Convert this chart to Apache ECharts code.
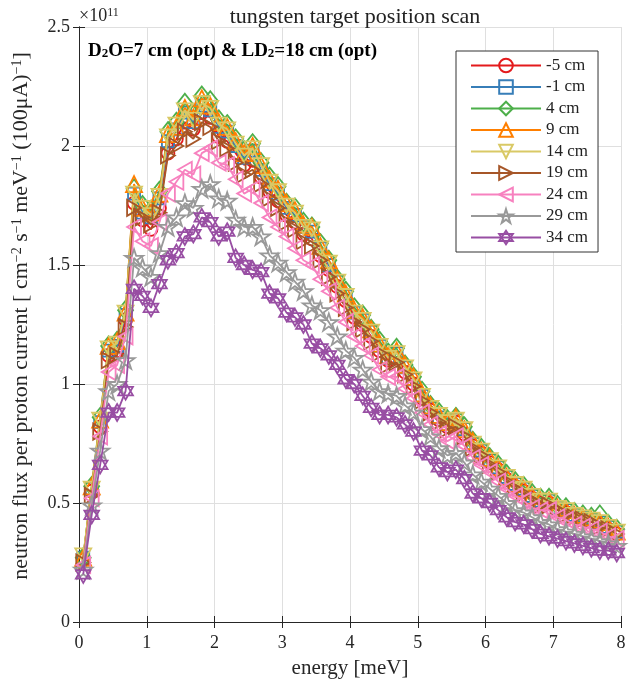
<!DOCTYPE html>
<html><head><meta charset="utf-8">
<script src="https://cdn.jsdelivr.net/npm/echarts@6/dist/echarts.min.js"></script>
<style>html,body{margin:0;padding:0;background:#fff}#c{width:644px;height:688px}</style>
</head><body><div id="c"></div>
<script>
// energy bin centres [meV]
const energy = [0.0625,0.1875,0.3125,0.4375,0.5625,0.6875,0.8125,0.9375,1.0625,1.1875,1.3125,1.4375,1.5625,1.6875,1.8125,1.9375,
2.0625,2.1875,2.3125,2.4375,2.5625,2.6875,2.8125,2.9375,3.0625,3.1875,3.3125,3.4375,3.5625,3.6875,3.8125,3.9375,
4.0625,4.1875,4.3125,4.4375,4.5625,4.6875,4.8125,4.9375,5.0625,5.1875,5.3125,5.4375,5.5625,5.6875,5.8125,5.9375,
6.0625,6.1875,6.3125,6.4375,6.5625,6.6875,6.8125,6.9375,7.0625,7.1875,7.3125,7.4375,7.5625,7.6875,7.8125,7.9375];

const seriesNames = ['-5 cm','-1 cm','4 cm','9 cm','14 cm','19 cm','24 cm','29 cm','34 cm'];

// flux in units of 1e11
const fluxM5 = [0.26,0.55,0.82,1.12,1.14,1.27,1.76,1.69,1.65,1.74,1.97,2.03,2.10,2.07,2.14,2.12,2.04,2.02,1.97,1.92,1.94,1.87,1.81,1.77,1.71,1.68,1.63,1.61,1.54,1.48,1.41,1.35,1.28,1.25,1.20,1.14,1.10,1.11,1.05,1.00,0.94,0.89,0.85,0.82,0.84,0.79,0.74,0.71,0.67,0.64,0.60,0.57,0.55,0.52,0.50,0.50,0.47,0.46,0.44,0.43,0.42,0.41,0.39,0.37];
const fluxM1 = [0.27,0.56,0.84,1.14,1.16,1.29,1.80,1.72,1.70,1.78,2.02,2.07,2.14,2.10,2.17,2.15,2.08,2.06,2.00,1.95,1.98,1.90,1.84,1.80,1.74,1.71,1.66,1.64,1.57,1.50,1.43,1.37,1.30,1.27,1.22,1.16,1.11,1.13,1.07,1.02,0.95,0.90,0.86,0.83,0.85,0.81,0.75,0.72,0.68,0.65,0.61,0.58,0.56,0.53,0.51,0.51,0.48,0.47,0.45,0.44,0.43,0.42,0.40,0.38];
const flux4 = [0.27,0.57,0.86,1.16,1.18,1.31,1.82,1.75,1.73,1.81,2.06,2.10,2.18,2.13,2.21,2.19,2.11,2.09,2.03,1.98,2.01,1.93,1.87,1.83,1.76,1.74,1.68,1.66,1.59,1.52,1.44,1.39,1.32,1.29,1.23,1.18,1.13,1.15,1.08,1.03,0.97,0.91,0.88,0.85,0.86,0.82,0.76,0.73,0.69,0.66,0.62,0.59,0.57,0.54,0.52,0.52,0.49,0.48,0.46,0.45,0.44,0.45,0.41,0.39];
const flux9 = [0.27,0.57,0.85,1.16,1.18,1.30,1.84,1.74,1.72,1.80,2.05,2.08,2.16,2.12,2.20,2.17,2.10,2.08,2.02,1.97,2.00,1.92,1.86,1.82,1.76,1.73,1.67,1.66,1.58,1.52,1.44,1.38,1.31,1.28,1.23,1.17,1.12,1.14,1.08,1.03,0.96,0.91,0.87,0.84,0.86,0.81,0.76,0.72,0.69,0.65,0.61,0.58,0.56,0.53,0.51,0.51,0.48,0.47,0.45,0.44,0.43,0.42,0.40,0.38];
const flux14 = [0.28,0.56,0.85,1.15,1.17,1.30,1.80,1.74,1.71,1.79,2.04,2.09,2.15,2.11,2.18,2.16,2.09,2.07,2.01,1.96,1.99,1.92,1.85,1.81,1.75,1.72,1.66,1.65,1.57,1.51,1.43,1.37,1.30,1.27,1.22,1.16,1.11,1.13,1.07,1.02,0.95,0.90,0.87,0.84,0.85,0.81,0.75,0.72,0.68,0.65,0.61,0.58,0.56,0.53,0.51,0.51,0.48,0.47,0.45,0.44,0.43,0.42,0.40,0.38];
const flux19 = [0.25,0.53,0.80,1.10,1.12,1.24,1.74,1.70,1.67,1.72,1.96,2.00,2.06,2.03,2.10,2.08,2.02,1.99,1.93,1.88,1.90,1.84,1.78,1.74,1.68,1.65,1.60,1.58,1.52,1.45,1.38,1.32,1.26,1.23,1.18,1.13,1.08,1.09,1.04,0.99,0.93,0.88,0.84,0.81,0.82,0.78,0.73,0.70,0.66,0.63,0.59,0.56,0.54,0.51,0.49,0.49,0.47,0.45,0.44,0.43,0.42,0.40,0.39,0.37];
const flux24 = [0.24,0.52,0.78,1.05,1.08,1.20,1.66,1.60,1.58,1.68,1.80,1.85,1.90,1.88,1.97,1.99,1.93,1.92,1.86,1.80,1.82,1.76,1.70,1.66,1.62,1.57,1.52,1.50,1.44,1.39,1.32,1.26,1.20,1.16,1.12,1.06,1.03,1.03,0.98,0.94,0.88,0.83,0.79,0.76,0.78,0.74,0.69,0.66,0.63,0.59,0.56,0.53,0.51,0.48,0.47,0.47,0.44,0.43,0.41,0.40,0.39,0.38,0.36,0.35];
const flux29 = [0.22,0.49,0.72,0.97,1.00,1.10,1.53,1.49,1.45,1.55,1.66,1.70,1.76,1.74,1.82,1.84,1.78,1.77,1.69,1.66,1.66,1.62,1.54,1.51,1.47,1.43,1.39,1.33,1.31,1.26,1.20,1.14,1.11,1.06,1.01,0.97,0.96,0.95,0.91,0.88,0.81,0.78,0.73,0.70,0.71,0.67,0.62,0.59,0.56,0.53,0.50,0.47,0.46,0.44,0.42,0.41,0.39,0.38,0.37,0.36,0.35,0.34,0.33,0.32];
const flux34 = [0.20,0.45,0.66,0.88,0.88,0.97,1.40,1.37,1.32,1.42,1.52,1.55,1.62,1.63,1.70,1.68,1.62,1.64,1.53,1.50,1.48,1.47,1.38,1.36,1.30,1.28,1.25,1.17,1.15,1.12,1.08,1.02,1.00,0.95,0.90,0.87,0.87,0.86,0.83,0.80,0.72,0.70,0.65,0.63,0.64,0.60,0.54,0.52,0.50,0.47,0.44,0.42,0.41,0.39,0.37,0.36,0.35,0.34,0.33,0.32,0.31,0.30,0.30,0.29];

const xTicks = [0,1,2,3,4,5,6,7,8];
const yTicks = [0,0.5,1,1.5,2,2.5];

const allFlux = [fluxM5, fluxM1, flux4, flux9, flux14, flux19, flux24, flux29, flux34];
const colors = ['#e41a1c','#377eb8','#4daf4a','#ff7f00','#d9c966','#a65628','#f781bf','#999999','#984ea3'];
const symbols = ['circle','rect','diamond','triangle',
  'path://M0,0L100,0L50,87Z',
  'path://M0,0L87,50L0,100Z',
  'path://M87,0L0,50L87,100Z',
  'path://M50,0L61.23,34.55L97.55,34.55L68.16,55.9L79.39,90.45L50,69.1L20.61,90.45L31.84,55.9L2.45,34.55L38.77,34.55Z',
  'path://M50,0L93.3,75L6.7,75Z M50,100L6.7,25L93.3,25Z'];
const symSizes = [13,12,[15,19],16,16,16,16,18,17];

const FONT = 'Liberation Serif';
const chart = echarts.init(document.getElementById('c'), null, {renderer:'canvas'});

const series = allFlux.map((arr, i) => ({
  name: seriesNames[i],
  type: 'line',
  data: energy.map((e, k) => [e, arr[k]]),
  symbol: symbols[i],
  symbolSize: symSizes[i],
  symbolKeepAspect: i >= 4,
  showAllSymbol: true,
  lineStyle: {color: colors[i], width: 1.8},
  itemStyle: {color: 'rgba(0,0,0,0)', borderColor: colors[i], borderWidth: 1.8},
  emphasis: {disabled: true},
  xAxisIndex: 0, yAxisIndex: 0,
  z: 2 + i
}));

const axisCommon = {
  min: 0,
  axisLine: {show: true, lineStyle: {color: '#262626', width: 1}},
  axisTick: {show: true, inside: true, length: 6, lineStyle: {color: '#262626', width: 1}},
};

chart.setOption({
  animation: false,
  backgroundColor: '#fff',
  textStyle: {fontFamily: FONT},
  title: {
    text: 'tungsten target position scan',
    left: 350, top: 1, textAlign: 'center',
    textStyle: {fontFamily: FONT, fontWeight: 'normal', fontSize: 22, color: '#222'}
  },
  grid: {left: 79, right: 23, top: 27, bottom: 66, containLabel: false},
  legend: {
    orient: 'vertical', left: 456, top: 51,
    itemWidth: 70, itemHeight: 17, itemGap: 4.5, itemTextGap: 7,
    padding: [6, 10, 6, 14],
    borderColor: '#333', borderWidth: 1, backgroundColor: '#fff',
    textStyle: {fontFamily: FONT, fontSize: 17, color: '#222'},
    data: seriesNames,
    selectedMode: false
  },
  xAxis: [
    Object.assign({}, axisCommon, {
      type: 'value', max: 8, interval: 1, position: 'bottom',
      axisLabel: {fontFamily: FONT, fontSize: 18, color: '#262626', margin: 12,
        formatter: v => xTicks.includes(v) ? String(v) : ''},
      splitLine: {show: true, lineStyle: {color: '#dfdfdf', width: 1}},
      name: 'energy [meV]', nameLocation: 'middle', nameGap: 36,
      nameTextStyle: {fontFamily: FONT, fontSize: 21, color: '#262626'}
    }),
    Object.assign({}, axisCommon, {
      type: 'value', max: 8, interval: 1, position: 'top', gridIndex: 0,
      axisLabel: {show: false}, splitLine: {show: false}
    })
  ],
  yAxis: [
    Object.assign({}, axisCommon, {
      type: 'value', max: 2.5, interval: 0.5, position: 'left',
      axisLabel: {fontFamily: FONT, fontSize: 18, color: '#262626', margin: 9,
        formatter: v => yTicks.includes(v) ? String(v) : ''},
      splitLine: {show: true, lineStyle: {color: '#dfdfdf', width: 1}}
    }),
    Object.assign({}, axisCommon, {
      type: 'value', max: 2.5, interval: 0.5, position: 'right', gridIndex: 0,
      axisLabel: {show: false}, splitLine: {show: false}
    })
  ],
  graphic: [
    {
      type: 'text', x: 79, y: 16, z: 100,
      style: {
        text: '×10{s|11}', fill: '#262626', textAlign: 'left', textVerticalAlign: 'middle',
        font: '18px "Liberation Serif"',
        rich: {s: {fontSize: 12, fontFamily: FONT, verticalAlign: 'top', lineHeight: 12, fill: '#262626'}}
      }
    },
    {
      type: 'text', x: 88, y: 51, z: 100,
      style: {
        text: 'D{b|2}O=7 cm (opt) & LD{b|2}=18 cm (opt)', fill: '#000', textAlign: 'left', textVerticalAlign: 'middle',
        font: 'bold 19px "Liberation Serif"',
        rich: {b: {fontSize: 13, fontWeight: 'bold', fontFamily: FONT, verticalAlign: 'bottom', lineHeight: 13, fill: '#000'}}
      }
    },
    {
      type: 'text', x: 21, y: 316, rotation: Math.PI / 2, z: 100,
      style: {
        text: 'neutron flux per proton current [ cm{s|−2} s{s|−1} meV{s|−1} (100μA){s|−1}]',
        fill: '#262626', textAlign: 'center', textVerticalAlign: 'middle',
        font: '22px "Liberation Serif"',
        rich: {s: {fontSize: 14, fontFamily: FONT, verticalAlign: 'top', lineHeight: 14, fill: '#262626'}}
      }
    }
  ],
  series: series
});
</script></body></html>
